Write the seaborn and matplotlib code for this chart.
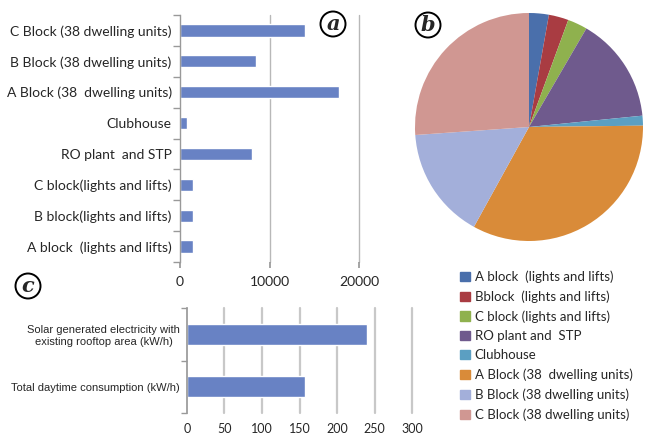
import numpy as np
import pandas as pd
import matplotlib
matplotlib.use('Agg')
import matplotlib.pyplot as plt
import seaborn as sns

# panel a - consumption by building
a_labels = ['C Block (38 dwelling units)', 'B Block (38 dwelling units)',
            'A Block (38  dwelling units)', 'Clubhouse', 'RO plant  and STP',
            'C block(lights and lifts)', 'B block(lights and lifts)',
            'A block  (lights and lifts)']
a_values = [14000, 8500, 17800, 750, 8050, 1500, 1500, 1500]
a_ticks = [0, 10000, 20000]

# panel b - pie shares (same data, legend order)
b_labels = ['A block  (lights and lifts)', 'Bblock  (lights and lifts)',
            'C block (lights and lifts)', 'RO plant and  STP', 'Clubhouse',
            'A Block (38  dwelling units)', 'B Block (38 dwelling units)',
            'C Block (38 dwelling units)']
b_values = [1500, 1500, 1500, 8050, 750, 17800, 8500, 14000]
b_colors = ['#4a6fab', '#a93c42', '#8fb14e', '#6f5a8d', '#5b9fc2',
            '#d98b39', '#a3afda', '#d09792']

# panel c - solar vs consumption
c_labels = ['Solar generated electricity with\nexisting rooftop area (kW/h)',
            'Total daytime consumption (kW/h)']
c_values = [240, 157]
c_ticks = [0, 50, 100, 150, 200, 250, 300]

sns.set_theme(style='white')
plt.rcParams['font.family'] = ['Lato', 'DejaVu Sans']

W, H = 647, 437
fig = plt.figure(figsize=(W / 100, H / 100), dpi=100)


def box(l, t, r, b):
    return [l / W, (H - b) / H, (r - l) / W, (b - t) / H]


bar_color = '#6882c4'
grid_col = '#b8b8b8'

# ---- panel a
ax1 = fig.add_axes(box(180, 15, 359, 262))
dfa = pd.DataFrame({'label': a_labels, 'value': a_values})
sns.barplot(data=dfa, x='value', y='label', orient='h', color=bar_color,
            width=0.4, saturation=1, ax=ax1)
ax1.set_xlim(0, 20000)
ax1.set_xticks(a_ticks)
ax1.set_xlabel('')
ax1.set_ylabel('')
for s in ['top', 'right', 'bottom']:
    ax1.spines[s].set_visible(False)
ax1.spines['left'].set_color('#999999')
ax1.spines['left'].set_linewidth(1)
for x in a_ticks[1:]:
    ax1.axvline(x, color=grid_col, lw=1, zorder=0, clip_on=False)
ax1.tick_params(axis='y', length=0, labelsize=10, pad=6)
ax1.set_yticks(np.arange(-0.5, len(a_labels), 1), minor=True)
ax1.tick_params(axis='y', which='minor', length=5, color='#999999', left=True)
ax1.tick_params(axis='x', length=4, color='#999999', bottom=True, labelsize=10, pad=6)
ax1.set_ylim(len(a_labels) - 0.5, -0.5)

# ---- panel b
ax2 = fig.add_axes(box(415, 13, 643, 241))
ax2.pie(b_values, colors=b_colors, startangle=90, counterclock=False,
        wedgeprops=dict(linewidth=0))
ax2.set_xlim(-1, 1)
ax2.set_ylim(-1, 1)
ax2.set_aspect('equal')
handles = [plt.Rectangle((0, 0), 1, 1, color=c) for c in b_colors]
fig.legend(handles, b_labels, loc='upper left', bbox_to_anchor=(455 / W, 1 - 265 / H),
           frameon=False, fontsize=9.5, handlelength=0.7, handleheight=0.7,
           handletextpad=0.4, labelspacing=0.56, borderaxespad=0)

# ---- panel c
ax3 = fig.add_axes(box(187, 308, 412, 413))
dfc = pd.DataFrame({'label': c_labels, 'value': c_values})
sns.barplot(data=dfc, x='value', y='label', orient='h', color=bar_color,
            width=0.4, saturation=1, ax=ax3)
ax3.set_xlim(0, 300)
ax3.set_xticks(c_ticks)
ax3.set_xlabel('')
ax3.set_ylabel('')
for s in ['top', 'right', 'bottom']:
    ax3.spines[s].set_visible(False)
ax3.spines['left'].set_color('#999999')
for x in c_ticks[1:]:
    ax3.axvline(x, color='#c8c8c8', lw=1.6, zorder=0, clip_on=False)
ax3.tick_params(axis='y', length=0, pad=5)
for t in ax3.get_yticklabels():
    t.set_family(['Liberation Sans', 'DejaVu Sans'])
    t.set_fontsize(8)
    t.set_multialignment('center')
ax3.set_yticks([-0.5, 0.5, 1.5], minor=True)
ax3.tick_params(axis='y', which='minor', length=4, color='#999999', left=True)
ax3.tick_params(axis='x', length=0, labelsize=9, pad=7)
ax3.set_ylim(1.5, -0.5)

# circled panel letters
for x, y, s in [(333, 24, 'a'), (428, 25, 'b'), (28, 286, 'c')]:
    fig.text(x / W, 1 - y / H, s, ha='center', va='center', fontsize=15,
             family='DejaVu Serif', weight='bold', style='italic',
             bbox=dict(boxstyle='circle,pad=0.12', fc='white', ec='black', lw=1.4))

fig.savefig('out.png', dpi=100)
